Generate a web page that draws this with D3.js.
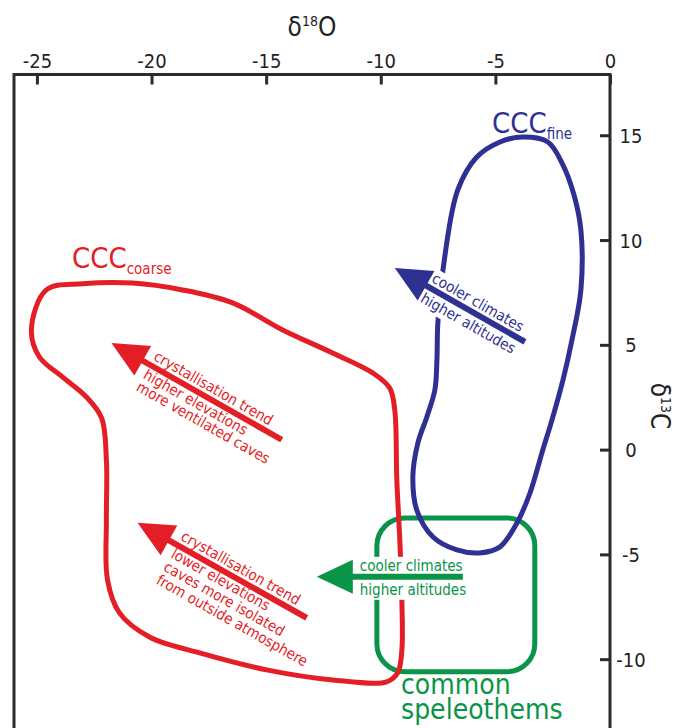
<!DOCTYPE html>
<html>
<head>
<meta charset="utf-8">
<script src="https://cdn.jsdelivr.net/npm/d3@7"></script>
<style>
  html, body { margin: 0; padding: 0; background: #ffffff; }
  svg { display: block; }
  text { font-family: "DejaVu Sans Condensed", "DejaVu Sans", sans-serif; font-stretch: condensed; }
</style>
</head>
<body>
<script>
// ---------------- data ----------------
const xTicks = [-25, -20, -15, -10, -5, 0];
const yTicks = [-10, -5, 0, 5, 10, 15];
const xTitle = ["δ", "18", "O"];
const yTitle = ["δ", "13", "C"];

// CCC coarse envelope (δ18O, δ13C)
const cccCoarse = [
  [-24.59, 7.62], [-23.01, 7.91], [-20.83, 7.95], [-18.65, 7.62], [-16.46, 7.00],
  [-14.28, 5.71], [-12.10, 4.61], [-10.35, 3.66], [-9.61, 2.94], [-9.39, 1.89],
  [-9.30, -1.45], [-9.17, -4.31], [-9.08, -7.17], [-9.08, -9.56], [-9.26, -10.65],
  [-9.74, -11.08], [-12.10, -10.99], [-14.98, -10.51], [-17.90, -9.70], [-20.09, -8.94],
  [-21.40, -7.79], [-21.92, -6.22], [-21.97, -3.35], [-21.97, -0.49], [-22.18, 1.51],
  [-22.84, 2.51], [-23.89, 3.47], [-24.89, 4.42], [-25.24, 5.71]
];
// CCC fine envelope
const cccFine = [
  [-3.80, 14.92], [-2.71, 14.68], [-2.05, 13.58], [-1.57, 12.15], [-1.27, 10.48],
  [-1.27, 7.62], [-1.66, 5.23], [-2.05, 3.33], [-2.53, 1.42], [-2.93, -0.01],
  [-3.49, -2.07], [-4.06, -3.50], [-4.80, -4.64], [-5.68, -4.93], [-6.68, -4.79],
  [-7.73, -4.16], [-8.43, -2.88], [-8.60, -1.30], [-8.38, 0.32], [-7.99, 1.56],
  [-7.64, 2.85], [-7.55, 4.28], [-7.51, 6.04], [-7.21, 9.19], [-6.64, 12.39],
  [-5.81, 13.96], [-4.80, 14.68]
];
// common speleothems field
const commonX = [-10.17, -3.28];
const commonY = [-10.6, -3.26];

// trend arrows: tail and tip in data units
const arrowTails = [[-14.32, 0.47], [-13.23, -8.03], [-3.71, 5.14], [-6.42, -6.07]];
const arrowTips  = [[-21.75, 5.09], [-20.61, -3.49], [-9.39, 8.67], [-12.79, -6.07]];
const arrowLabels = [
  ["crystallisation trend", "higher elevations", "more ventilated caves"],
  ["crystallisation trend", "lower elevations", "caves more isolated", "from outside atmosphere"],
  ["cooler climates", "higher altitudes"],
  ["cooler climates", "higher altitudes"]
];
const fieldLabels = [["CCC", "coarse"], ["CCC", "fine"], ["common", "speleothems"]];

// ---------------- styles ----------------
const RED = "#e41e26", BLUE = "#2e3192", GREEN = "#0a9447", AXIS = "#2b2b2b";
const arrowColors = [RED, RED, BLUE, GREEN];
const labelPerp = [[-6, 15, 29], [-6, 14, 29, 44], [-6, 17], [-6, 18]];
const labelAlong = [44, 45, 38, 43];
const labelBacked = [false, false, true, true];

// ---------------- chart ----------------
const W = 684, H = 728;
const svg = d3.select("body").append("svg").attr("width", W).attr("height", H);

const x = d3.scaleLinear().domain([-26, 0]).range([14, 610]);
const y = d3.scaleLinear().domain([-14, 17.9]).range([743, 74.5]);

// frame
svg.append("path")
  .attr("d", `M${x(-26)},${y(-14)} L${x(-26)},${y(17.9)} L${x(0)},${y(17.9)} L${x(0)},${y(-14)}`)
  .attr("fill", "none").attr("stroke", AXIS).attr("stroke-width", 3);

// top axis
const gx = svg.append("g").attr("transform", `translate(0,${y(17.9)})`)
  .call(d3.axisTop(x).tickValues(xTicks).tickSizeInner(-10).tickSizeOuter(0).tickPadding(7)
        .tickFormat(d => d3.format("d")(d).replace("−", "-")));
gx.select(".domain").remove();
gx.selectAll(".tick line").attr("stroke", AXIS).attr("stroke-width", 3);
gx.selectAll(".tick text").attr("fill", "#222").style("font-size", "20px")
  .style("font-family", "'DejaVu Sans Condensed','DejaVu Sans',sans-serif");

// right axis
const gy = svg.append("g").attr("transform", `translate(${x(0)},0)`)
  .call(d3.axisRight(y).tickValues(yTicks).tickSizeInner(-10).tickSizeOuter(0)
        .tickFormat(d => d3.format("d")(d).replace("−", "-")));
gy.select(".domain").remove();
gy.selectAll(".tick line").attr("stroke", AXIS).attr("stroke-width", 3);
gy.selectAll(".tick text").attr("fill", "#222").style("font-size", "20px")
  .attr("x", 21).attr("text-anchor", "middle").attr("dy", "0.35em")
  .style("font-family", "'DejaVu Sans Condensed','DejaVu Sans',sans-serif");

// axis titles
const xt = svg.append("text").attr("x", 312).attr("y", 36).attr("text-anchor", "middle")
  .attr("fill", "#222").style("font-size", "26px");
xt.append("tspan").text(xTitle[0]);
xt.append("tspan").text(xTitle[1]).style("font-size", "14px").attr("dy", -10);
xt.append("tspan").text(xTitle[2]).attr("dy", 10);

const yt = svg.append("text").attr("transform", "translate(651,406) rotate(90)")
  .attr("text-anchor", "middle").attr("fill", "#222").style("font-size", "26px");
yt.append("tspan").text(yTitle[0]);
yt.append("tspan").text(yTitle[1]).style("font-size", "14px").attr("dy", -10);
yt.append("tspan").text(yTitle[2]).attr("dy", 10);

// common speleothems box
svg.append("rect")
  .attr("x", x(commonX[0])).attr("y", y(commonY[1]))
  .attr("width", x(commonX[1]) - x(commonX[0]))
  .attr("height", y(commonY[0]) - y(commonY[1]))
  .attr("rx", 28).attr("ry", 28)
  .attr("fill", "none").attr("stroke", GREEN).attr("stroke-width", 5);

// envelopes
const line = d3.line().x(d => x(d[0])).y(d => y(d[1])).curve(d3.curveCatmullRomClosed.alpha(0.5));
svg.append("path").attr("d", line(cccCoarse)).attr("fill", "none").attr("stroke", RED).attr("stroke-width", 5);
svg.append("path").attr("d", line(cccFine)).attr("fill", "none").attr("stroke", BLUE).attr("stroke-width", 5);

// arrows with labels
const bgLayer = svg.append("g");
const fgLayer = svg.append("g");
arrowTails.forEach((tail, i) => {
  const tip = arrowTips[i];
  const tx = x(tail[0]), ty = y(tail[1]), px = x(tip[0]), py = y(tip[1]);
  const len = Math.hypot(tx - px, ty - py);
  const ux = (tx - px) / len, uy = (ty - py) / len; // from tip toward tail
  const nx = -uy, ny = ux;
  const headL = 36, headW = 17;
  const bx = px + ux * headL, by = py + uy * headL;
  const col = arrowColors[i];
  const ang = Math.atan2(uy, ux) * 180 / Math.PI;
  const a = labelAlong[i];
  let maxW = 0;
  arrowLabels[i].forEach((t, j) => {
    const p = labelPerp[i][j];
    const lx = px + ux * a + nx * p, ly = py + uy * a + ny * p;
    const tn = fgLayer.append("text").attr("transform", `translate(${lx},${ly}) rotate(${ang})`)
      .attr("fill", col).style("font-size", "15px").text(t);
    maxW = Math.max(maxW, tn.node().getComputedTextLength());
  });
  if (labelBacked[i]) {
    const ps = labelPerp[i];
    const ox = px + ux * (a - 3), oy = py + uy * (a - 3);
    bgLayer.append("rect")
      .attr("transform", `translate(${ox},${oy}) rotate(${ang})`)
      .attr("x", 0).attr("y", ps[0] - 14)
      .attr("width", maxW + 6).attr("height", ps[ps.length - 1] - ps[0] + 19)
      .attr("fill", "#ffffff");
  }
  fgLayer.insert("line", "text").attr("x1", bx - ux * 2).attr("y1", by - uy * 2).attr("x2", tx).attr("y2", ty)
    .attr("stroke", col).attr("stroke-width", 6);
  fgLayer.insert("path", "text")
    .attr("d", `M${px},${py} L${bx + nx * headW},${by + ny * headW} L${bx - nx * headW},${by - ny * headW} Z`)
    .attr("fill", col);
});

// field labels
function ccc(lbl, px, py, col) {
  const t = svg.append("text").attr("x", px).attr("y", py).attr("fill", col).style("font-size", "29px");
  t.append("tspan").text(lbl[0]);
  t.append("tspan").text(lbl[1]).style("font-size", "15px").attr("dy", 6);
}
ccc(fieldLabels[0], 72, 268, RED);
ccc(fieldLabels[1], 492, 133, BLUE);
const cs = svg.append("text").attr("fill", GREEN).style("font-size", "28px");
cs.append("tspan").attr("x", 401).attr("y", 694).text(fieldLabels[2][0]);
cs.append("tspan").attr("x", 401).attr("y", 719).text(fieldLabels[2][1]);
</script>
</body>
</html>
